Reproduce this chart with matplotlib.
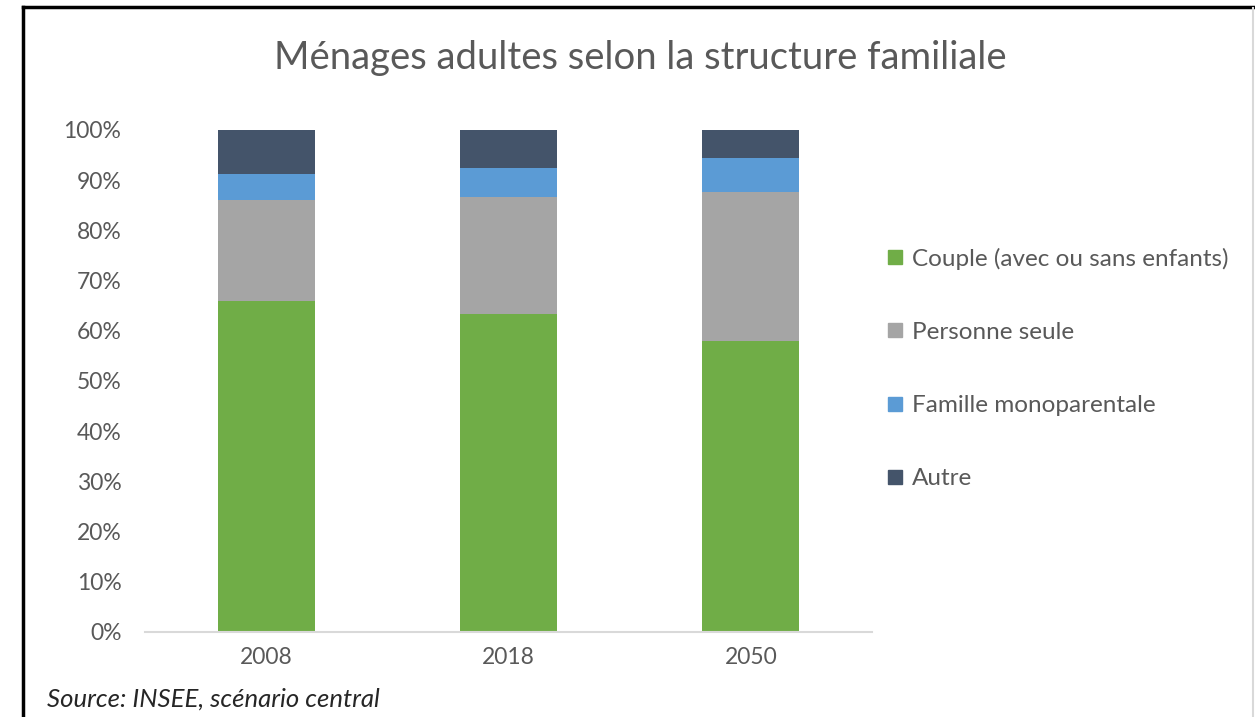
import numpy as np
import matplotlib
matplotlib.use("Agg")
from matplotlib import pyplot as plt
from matplotlib.lines import Line2D

# data (in %)
annees = ["2008", "2018", "2050"]
couple = [65.9, 63.3, 58.0]
seule = [20.2, 23.4, 29.6]
mono = [5.1, 5.7, 6.8]
autre = [8.8, 7.6, 5.6]
series = ["Couple (avec ou sans enfants)", "Personne seule",
          "Famille monoparentale", "Autre"]
couleurs = ["#70ad47", "#a5a5a5", "#5b9bd5", "#44546a"]

plt.rcParams['font.family'] = ['Lato', 'DejaVu Sans']
gris = "#595959"

fig = plt.figure(figsize=(12.55, 7.17), dpi=100)
ax = fig.add_axes([145 / 1255, 1 - 632 / 717, 727 / 1255, 502 / 717])

x = np.arange(len(annees))
bas = np.zeros(len(annees))
for vals, nom, c in zip([couple, seule, mono, autre], series, couleurs):
    ax.bar(x, vals, 0.4, bottom=bas, color=c, label=nom, zorder=2)
    bas += np.array(vals)

ax.set_xlim(-0.5, 2.5)
ax.set_ylim(0, 100)
ax.set_yticks(np.arange(0, 101, 10))
ax.set_yticklabels([f"{v}%" for v in range(0, 101, 10)])
ax.set_xticks(x)
ax.set_xticklabels(annees)
ax.tick_params(axis='both', length=0, labelsize=16.5, colors=gris)
ax.tick_params(axis='y', pad=17)
ax.tick_params(axis='x', pad=11)
for s in ["top", "right", "left"]:
    ax.spines[s].set_visible(False)
ax.spines["bottom"].set_color("#d9d9d9")
ax.spines["bottom"].set_linewidth(1.5)

fig.text(640 / 1255, 1 - 58 / 717, "Ménages adultes selon la structure familiale",
         ha="center", va="center", fontsize=27.5, color=gris)

handles = [Line2D([], [], marker="s", linestyle="none", markersize=10,
                  markerfacecolor=c, markeredgecolor=c) for c in couleurs]
fig.legend(handles, series, loc="center left",
           bbox_to_anchor=(863 / 1255, 1 - 368.5 / 717), frameon=False,
           fontsize=17.5, labelcolor=gris, handletextpad=0.3,
           handlelength=0.8, labelspacing=2.15)

fig.text(47 / 1255, 1 - 699 / 717, "Source: INSEE, scénario central",
         ha="left", va="center", fontsize=18.5, style="italic", color="#262626")

# cadre de la capture
fig.add_artist(Line2D([23 / 1255, 23 / 1255], [0, 1 - 7 / 717],
                      transform=fig.transFigure, color="black", lw=2.5))
fig.add_artist(Line2D([23 / 1255, 1], [1 - 7 / 717, 1 - 7 / 717],
                      transform=fig.transFigure, color="black", lw=2.5))
fig.add_artist(Line2D([1253 / 1255, 1253 / 1255], [0, 1 - 8 / 717],
                      transform=fig.transFigure, color="#d9d9d9", lw=1.5))

fig.savefig("out.png", dpi=100)
